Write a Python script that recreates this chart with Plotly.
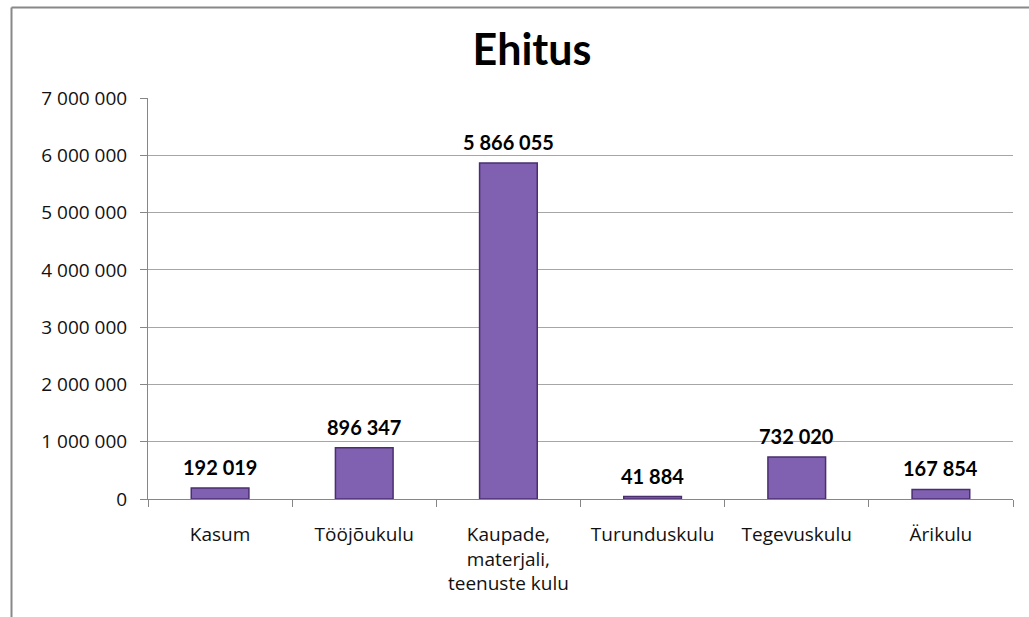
import plotly.graph_objects as go

categories = ["Kasum", "Tööjõukulu", "Kaupade,<br>materjali,<br>teenuste kulu",
              "Turunduskulu", "Tegevuskulu", "Ärikulu"]
values = [192019, 896347, 5866055, 41884, 732020, 167854]
tick_vals = [0, 1000000, 2000000, 3000000, 4000000, 5000000, 6000000, 7000000]

W, H = 1029, 617
L, R, T, B = 148, 16, 98, 118
pw, ph = W - L - R, H - T - B
BOLD_FONT = "Lato, Open Sans, sans-serif"
FONT = "Open Sans, Lato, sans-serif"

fig = go.Figure(go.Bar(
    x=categories, y=values, width=0.4,
    marker=dict(color="#8060B0", line=dict(color="#4A2E70", width=1.5)),
    cliponaxis=False,
))

for c, v in zip(categories, values):
    fig.add_annotation(x=c, y=v, text="<b>" + f"{v:,d}".replace(",", " ") + "</b>",
                       showarrow=False, yanchor="bottom", yshift=7,
                       font=dict(family=BOLD_FONT, size=20, color="#000"))

fig.update_layout(
    width=W, height=H, separators=". ",
    margin=dict(l=L, r=R, t=T, b=B),
    plot_bgcolor="white", paper_bgcolor="white",
    title=dict(text="<b>Ehitus</b>", x=532 / W, xanchor="center", y=1 - 50 / H, yanchor="middle",
               font=dict(family=BOLD_FONT, size=43, color="#000")),
    showlegend=False,
    xaxis=dict(showgrid=False, showline=True, linecolor="#868686", linewidth=1,
               ticks="outside", tickson="boundaries", ticklen=7, tickcolor="#868686",
               ticklabelstandoff=18,
               tickfont=dict(family=FONT, size=19, color="#111")),
    yaxis=dict(range=[0, 7000000], tickvals=tick_vals, tickformat=",d",
               showgrid=True, gridcolor="#A6A6A6", gridwidth=1,
               showline=True, linecolor="#868686", linewidth=1,
               ticks="outside", ticklen=7, tickcolor="#868686", zeroline=False,
               ticklabelstandoff=9,
               tickfont=dict(family=FONT, size=19, color="#111")),
    shapes=[
        dict(type="line", xref="paper", yref="paper",
             x0=(11.5 - L) / pw, x1=(11.5 - L) / pw,
             y0=1 + (T - 7.5) / ph, y1=-(B + 5) / ph,
             line=dict(color="#888888", width=2)),
        dict(type="line", xref="paper", yref="paper",
             x0=(11.5 - L) / pw, x1=(W + 5 - L) / pw,
             y0=1 + (T - 7.5) / ph, y1=1 + (T - 7.5) / ph,
             line=dict(color="#888888", width=2)),
    ],
)

fig.write_html("out.html", config={"displayModeBar": False},
               post_script="document.body.style.margin='0';document.body.style.overflow='hidden';")
